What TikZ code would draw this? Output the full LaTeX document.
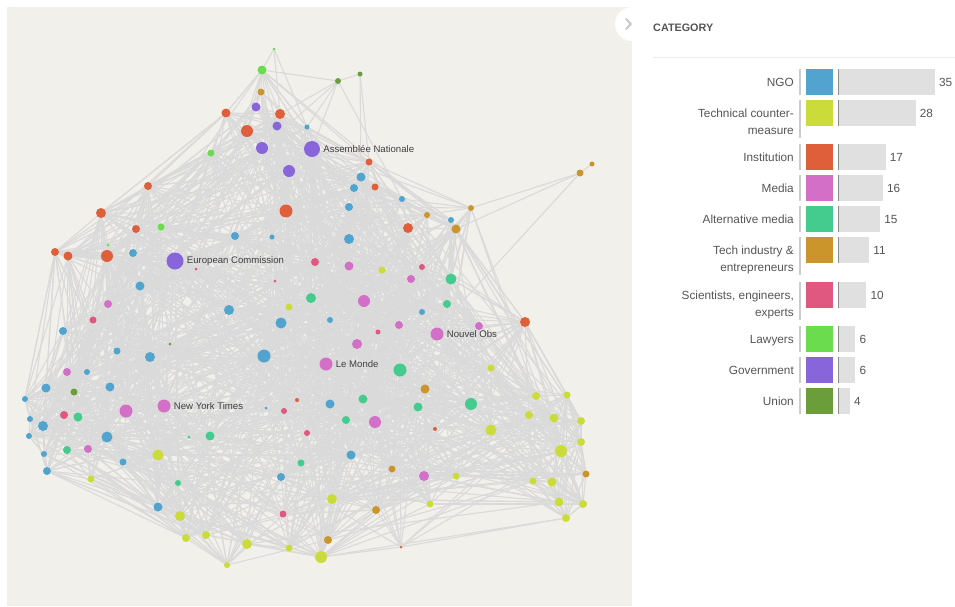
\documentclass[tikz,border=0pt]{standalone}
\usepackage{fontspec}
\setmainfont{Liberation Sans}
\usepackage{tikz}
\usetikzlibrary{positioning}
\pgfdeclarelayer{back}
\pgfdeclarelayer{links}
\pgfsetlayers{back,links,main}

\definecolor{cN}{HTML}{50A4CE}
\definecolor{cT}{HTML}{CBDB3A}
\definecolor{cI}{HTML}{E05F3B}
\definecolor{cM}{HTML}{D46FC8}
\definecolor{cA}{HTML}{44CB8E}
\definecolor{cC}{HTML}{CC952C}
\definecolor{cS}{HTML}{E0577F}
\definecolor{cL}{HTML}{6ADC4D}
\definecolor{cG}{HTML}{8965DC}
\definecolor{cU}{HTML}{6B9E3B}
\definecolor{paper}{HTML}{F2F0EA}
\definecolor{linkc}{HTML}{DADADA}
\definecolor{txt}{HTML}{555555}

\tikzset{
  nd/.style={circle, fill=c#1, draw=none, inner sep=0pt},
  link/.style={linkc, line width=1.1pt},
  lbl/.style={text=black!75, inner sep=0pt, font=\fontsize{9.6}{11}\selectfont},
  leg/.style={text=txt, inner sep=0pt, font=\fontsize{11.8}{13}\selectfont},
  sepl/.style={black!20, line width=1.2pt},
  axl/.style={black!45, line width=1pt}
}

\begin{document}
\begin{tikzpicture}[x=1pt, y=-1pt]
  \useasboundingbox (0,0) rectangle (955,606);
  \begin{pgfonlayer}{back}
    \fill[white] (0,0) rectangle (955,606);
    \fill[paper] (7,7) rectangle (632,606);
  \end{pgfonlayer}

  % graph nodes: x/y/radius/category
  \foreach \xx/\yy/\rr/\cc [count=\i] in {
    % 1-10
    274/49/1.5/L, 262/70/4.5/L, 360/74/2.5/U, 338/81/3/U, 261/92/3.5/C,
    256/107/4.5/G, 226/113/4.5/I, 280/114/5/I, 277/126/4.5/G, 307/127/2.5/N,
    % 11-20
    247/131/6/I, 262/148/6/G, 312/149/8/G, 211/153/3.5/L, 369/162/3.5/I,
    592/164/2.5/C, 289/171/6/G, 580/173/3.5/C, 361/177/4.5/N, 148/186/4/I,
    % 21-30
    375/187/3.5/I, 354/188/4/N, 402/199/3/N, 349/207/4/N, 471/208/3/C,
    286/211/6.5/I, 101/213/5/I, 427/215/3/C, 451/220/3/N, 161/227/3.5/L,
    % 31-40
    136/229/4/I, 408/228/5/I, 456/229/4.5/C, 235/236/4/N, 272/237/2.5/N,
    349/239/5/N, 108/245/1.5/L, 55/252/4/I, 133/253/4/N, 68/256/4.5/I,
    % 41-50
    107/256/6/I, 175/261/8.5/G, 315/262/4/S, 349/266/4.5/M, 422/267/3/S,
    196/269/1.5/S, 382/270/3.5/T, 411/279/4/M, 451/279/5.5/A, 275/281/1.5/S,
    % 51-60
    140/286/4.5/N, 311/298/5/A, 364/301/6/M, 447/304/4/A, 108/304/4/M,
    289/307/3.5/T, 229/310/5/N, 422/312/3/N, 93/320/3.5/S, 330/320/3/N,
    % 61-70
    525/322/5/I, 281/323/5.5/N, 399/325/4/M, 479/326/4/M, 63/331/4/N,
    378/332/2.5/S, 437/334/6.5/M, 357/344/5/M, 170/344/1.5/U, 117/351/3.5/N,
    % 71-80
    150/357/5/N, 264/356/6.5/N, 326/364/6.5/M, 491/368/3.5/T, 400/370/6.5/A,
    67/372/4/M, 87/372/3/N, 110/387/4.5/N, 46/388/4.5/N, 425/389/4.5/C,
    % 81-90
    74/392/3.5/U, 567/395/3.5/T, 536/396/4/T, 25/399/3/N, 297/400/2/I,
    363/399/4.5/A, 471/404/6/A, 330/404/4.5/N, 164/406/6.5/M, 418/407/4.5/A,
    % 91-100
    266/408/1.5/N, 126/411/6.5/M, 284/411/3/S, 529/415/4/T, 64/415/4/S,
    78/417/4.5/A, 554/418/4.5/T, 30/419/3/N, 346/420/4/A, 581/421/4/T,
    % 101-110
    375/422/6/M, 43/426/5/N, 435/429/2/I, 491/430/5.5/T, 307/433/3/S,
    210/436/4.5/A, 189/437/1.5/A, 29/436/3/N, 107/437/5.5/N, 581/442/4/T,
    % 111-120
    67/450/4/A, 88/449/4/M, 561/451/6/T, 44/454/3/N, 158/455/5.5/T,
    351/455/4.5/N, 123/462/3.5/N, 301/463/3.5/A, 392/469/3.5/C, 47/471/4/N,
    % 121-130
    586/474/3.5/C, 424/476/5/M, 456/476/3.5/T, 281/477/4/N, 91/479/3.5/T,
    533/481/3.5/T, 552/482/4.5/T, 178/483/3/A, 332/499/5/T, 559/502/4.5/T,
    % 131-140
    583/504/4/T, 430/504/3.5/T, 158/507/4.5/N, 376/510/4/C, 283/514/3.5/S,
    180/516/5/T, 566/518/4/T, 206/535/4/T, 186/538/4/T, 328/540/4/C,
    % 141-145
    247/544/5/T, 401/547/1.5/I, 289/548/3.5/T, 321/557/6/T, 227/565/3/T}
  {
    \node[nd=\cc, minimum size={2*\rr pt}] (n\i) at (\xx,\yy) {};
    \expandafter\xdef\csname px\i\endcsname{\xx}
    \expandafter\xdef\csname py\i\endcsname{\yy}
    \expandafter\xdef\csname pr\i\endcsname{\rr}
  }

  \node[lbl, right=3pt of n13] (lAN) {Assemblée Nationale};
  \node[lbl, right=3pt of n42] (lEC) {European Commission};
  \node[lbl, right=3pt of n89] (lNYT) {New York Times};
  \node[lbl, right=3pt of n73] (lLM) {Le Monde};
  \node[lbl, right=3pt of n67] (lNO) {Nouvel Obs};

  \begin{pgfonlayer}{links}
    % outline links
    \foreach \a/\b in {1/2, 1/8, 1/10, 2/5, 2/7, 2/6, 2/11, 2/4, 4/3, 4/10,
      4/13, 4/8, 4/12, 4/23, 3/15, 3/19, 7/20, 7/27, 7/14, 20/27, 27/38, 20/38,
      38/40, 38/79, 40/84, 38/84, 84/98, 84/79, 98/108, 108/114, 114/120,
      120/139, 114/139, 120/125, 120/138, 139/145, 145/141, 145/138, 141/144,
      144/142, 144/137, 142/137, 137/131, 131/121, 121/110, 110/100, 100/82,
      82/61, 61/33, 61/100, 18/33, 18/25, 18/16, 18/75, 25/33, 29/33, 23/33,
      15/33, 28/33, 61/113, 137/130, 131/113, 100/113}
      \draw[link] (n\a) -- (n\b);
    % random links, nearer pairs and bigger nodes more likely
    \pgfmathsetseed{11}
    \foreach \i in {1,...,145} {
      \edef\xa{\csname px\i\endcsname}
      \edef\ya{\csname py\i\endcsname}
      \edef\ra{\csname pr\i\endcsname}
      \pgfmathtruncatemacro\tries{14*\ra+10}
      \foreach \k in {1,...,\tries} {
        \pgfmathrandominteger{\j}{1}{145}
        \edef\xb{\csname px\j\endcsname}
        \edef\yb{\csname py\j\endcsname}
        \edef\rb{\csname pr\j\endcsname}
        \pgfmathtruncatemacro\ok{(\j!=\i) && (\i!=1) && (\i!=3) && (\i!=4)
          && (\j!=1) && (\j!=3) && (\j!=4) && (\i!=16) && (\i!=18)
          && (\j!=16) && (\j!=18)
          && (veclen((\xa-\xb)/100,(\ya-\yb)/100) < 3.4*rnd) && (7*rnd < \rb+1)}
        \ifnum\ok=1 \draw[link] (n\i) -- (n\j); \fi
      }
    }
  \end{pgfonlayer}

  % side panel
  \fill[white] (632,24) circle (17pt);
  \draw[black!22, line width=1.8pt, line cap=round, line join=round]
    (626,19) -- (631,24) -- (626,29);
  \node[leg, font=\bfseries\fontsize{10.8}{13}\selectfont, anchor=base west] (cat) at (653,31) {CATEGORY};
  \draw[black!7, line width=1pt] (653,57.5) -- (955,57.5);

  \foreach \yy/\hh/\lab/\cc/\nn [count=\k] in {69/26/NGO/N/35,
    100/38/Technical counter-/T/28, 144/26/Institution/I/17, 175/26/Media/M/16,
    206/26/Alternative media/A/15, 237/38/Tech industry \&/C/11,
    282/38/{Scientists, engineers,}/S/10, 326/26/Lawyers/L/6,
    357/26/Government/G/6, 388/26/Union/U/4} {
    \draw[sepl] (800,\yy) -- (800,\yy+\hh);
    \fill[c\cc] (806,\yy) rectangle ++(27,26);
    \fill[black!12] (839,\yy) rectangle ++({2.74*\nn},26);
    \draw[axl] (838.5,\yy) -- (838.5,\yy+26);
    \node[leg, anchor=base east] (lab\k) at (794,\yy+17) {\lab};
    \node[leg, anchor=base west] (val\k) at ({839+2.74*\nn+4},\yy+17) {\nn};
  }
  \foreach \yy/\lab [count=\k] in {134/measure, 271/entrepreneurs, 316/experts}
    \node[leg, anchor=base east] (sub\k) at (794,\yy) {\lab};
\end{tikzpicture}
\end{document}
